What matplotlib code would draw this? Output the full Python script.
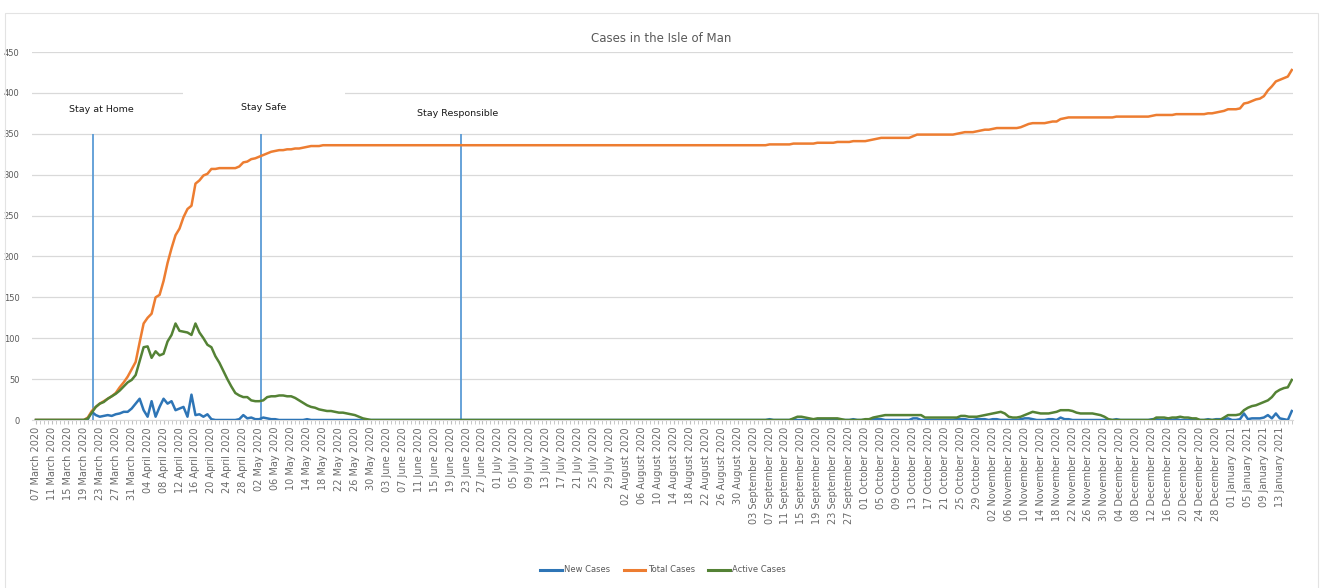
import matplotlib
matplotlib.use("Agg")
import matplotlib.pyplot as plt
from matplotlib.patches import Rectangle
import pandas as pd

# ---------------- data (daily, 07 March 2020 -> 16 January 2021) ----------------
start_date = "2020-03-07"

total_cases = [
    # March 7-31
    0, 0, 0, 0, 0, 0, 0, 0, 0, 0, 0, 0, 0,
    3, 11, 16, 20, 23, 26, 29, 33, 40, 46, 53, 62,
    # April
    71, 95, 118, 125, 130, 150, 153, 170, 192, 210, 226, 234, 248, 258, 262, 289, 293, 299, 301, 307,
    307, 308, 308, 308, 308, 308, 310, 315, 316, 319,
    # May
    320, 322, 324, 326, 328, 329, 330, 330, 331, 331, 332, 332, 333, 334, 335, 335, 335, 336, 336, 336,
    336, 336, 336, 336, 336, 336, 336, 336, 336, 336, 336,
    # June
    336, 336, 336, 336, 336, 336, 336, 336, 336, 336, 336, 336, 336, 336, 336, 336, 336, 336, 336, 336,
    336, 336, 336, 336, 336, 336, 336, 336, 336, 336,
    # July
    336, 336, 336, 336, 336, 336, 336, 336, 336, 336, 336, 336, 336, 336, 336, 336, 336, 336, 336, 336,
    336, 336, 336, 336, 336, 336, 336, 336, 336, 336, 336,
    # August
    336, 336, 336, 336, 336, 336, 336, 336, 336, 336, 336, 336, 336, 336, 336, 336, 336, 336, 336, 336,
    336, 336, 336, 336, 336, 336, 336, 336, 336, 336, 336,
    # September
    336, 336, 336, 336, 336, 336, 337, 337, 337, 337, 337, 337, 338, 338, 338, 338, 338, 338, 339, 339,
    339, 339, 339, 340, 340, 340, 340, 341, 341, 341,
    # October
    341, 342, 343, 344, 345, 345, 345, 345, 345, 345, 345, 345, 347, 349, 349, 349, 349, 349, 349, 349,
    349, 349, 349, 350, 351, 352, 352, 352, 353, 354, 355,
    # November
    355, 356, 357, 357, 357, 357, 357, 357, 358, 360, 362, 363, 363, 363, 363, 364, 365, 365, 368, 369,
    370, 370, 370, 370, 370, 370, 370, 370, 370, 370,
    # December
    370, 370, 371, 371, 371, 371, 371, 371, 371, 371, 371, 372, 373, 373, 373, 373, 373, 374, 374, 374,
    374, 374, 374, 374, 374, 375, 375, 376, 377, 378, 380,
    # January 1-16
    380, 380, 381, 387, 388, 390, 392, 393, 396, 403, 408, 414, 416, 418, 420, 428,
]

new_cases = [
    # March 7-31
    0, 0, 0, 0, 0, 0, 0, 0, 0, 0, 0, 0, 0,
    1, 10, 6, 4, 5, 6, 5, 7, 8, 10, 10, 14,
    # April
    20, 26, 12, 4, 23, 4, 16, 26, 20, 23, 12, 14, 16, 4, 31, 6, 7, 4, 7, 1,
    0, 0, 0, 0, 0, 0, 1, 6, 2, 3,
    # May
    1, 1, 3, 2, 1, 1, 0, 0, 0, 0, 0, 0, 0, 1, 0, 0, 0, 0, 0, 0,
    0, 0, 0, 0, 0, 0, 0, 0, 0, 0, 0,
    # June
    0, 0, 0, 0, 0, 0, 0, 0, 0, 0, 0, 0, 0, 0, 0, 0, 0, 0, 0, 0,
    0, 0, 0, 0, 0, 0, 0, 0, 0, 0,
    # July
    0, 0, 0, 0, 0, 0, 0, 0, 0, 0, 0, 0, 0, 0, 0, 0, 0, 0, 0, 0,
    0, 0, 0, 0, 0, 0, 0, 0, 0, 0, 0,
    # August
    0, 0, 0, 0, 0, 0, 0, 0, 0, 0, 0, 0, 0, 0, 0, 0, 0, 0, 0, 0,
    0, 0, 0, 0, 0, 0, 0, 0, 0, 0, 0,
    # September
    0, 0, 0, 0, 0, 0, 1, 0, 0, 0, 0, 0, 1, 0, 0, 0, 0, 0, 1, 0,
    0, 0, 0, 1, 0, 0, 0, 1, 0, 0,
    # October
    0, 1, 1, 1, 1, 0, 0, 0, 0, 0, 0, 0, 2, 2, 0, 0, 0, 0, 0, 0,
    0, 0, 0, 1, 1, 1, 0, 0, 1, 1, 1,
    # November
    0, 1, 1, 0, 0, 0, 0, 0, 1, 2, 2, 1, 0, 0, 0, 1, 1, 0, 3, 1,
    1, 0, 0, 0, 0, 0, 0, 0, 0, 0,
    # December
    0, 0, 1, 0, 0, 0, 0, 0, 0, 0, 0, 1, 1, 0, 0, 0, 0, 1, 0, 0,
    0, 0, 0, 0, 0, 1, 0, 1, 1, 1, 2,
    # January 1-16
    0, 0, 1, 8, 1, 2, 2, 2, 3, 6, 2, 8, 2, 1, 0, 11,
]

active_cases = [
    # March 7-31
    0, 0, 0, 0, 0, 0, 0, 0, 0, 0, 0, 0, 0,
    2, 9, 16, 20, 22, 26, 29, 32, 36, 41, 46, 49,
    # April
    55, 72, 89, 90, 76, 84, 79, 81, 96, 104, 118, 109, 108, 107, 104, 118, 107, 100, 92, 89,
    78, 70, 60, 50, 41, 33, 30, 28, 28, 24,
    # May
    23, 23, 24, 28, 29, 29, 30, 30, 29, 29, 27, 24, 21, 18, 16, 15, 13, 12, 11, 11,
    10, 9, 9, 8, 7, 6, 4, 2, 1, 0, 0,
    # June
    0, 0, 0, 0, 0, 0, 0, 0, 0, 0, 0, 0, 0, 0, 0, 0, 0, 0, 0, 0,
    0, 0, 0, 0, 0, 0, 0, 0, 0, 0,
    # July
    0, 0, 0, 0, 0, 0, 0, 0, 0, 0, 0, 0, 0, 0, 0, 0, 0, 0, 0, 0,
    0, 0, 0, 0, 0, 0, 0, 0, 0, 0, 0,
    # August
    0, 0, 0, 0, 0, 0, 0, 0, 0, 0, 0, 0, 0, 0, 0, 0, 0, 0, 0, 0,
    0, 0, 0, 0, 0, 0, 0, 0, 0, 0, 0,
    # September
    0, 0, 0, 0, 0, 0, 0, 0, 0, 0, 0, 0, 2, 4, 4, 3, 2, 1, 2, 2,
    2, 2, 2, 2, 1, 0, 0, 0, 0, 0,
    # October
    1, 1, 3, 4, 5, 6, 6, 6, 6, 6, 6, 6, 6, 6, 6, 3, 3, 3, 3, 3,
    3, 3, 3, 3, 5, 5, 4, 4, 4, 5, 6,
    # November
    7, 8, 9, 10, 8, 4, 3, 3, 4, 6, 8, 10, 9, 8, 8, 8, 9, 10, 12, 12,
    12, 11, 9, 8, 8, 8, 8, 7, 6, 4,
    # December
    1, 0, 0, 0, 0, 0, 0, 0, 0, 0, 0, 0, 3, 3, 3, 2, 3, 3, 4, 3,
    3, 2, 2, 0, 0, 0, 0, 0, 0, 3, 6,
    # January 1-16
    6, 6, 7, 12, 15, 17, 18, 20, 22, 24, 28, 34, 37, 39, 40, 49,
]

event_labels = ["Stay at Home", "Stay Safe", "Stay Responsible"]
event_positions = [14.2, 56.5, 106.6]   # day index of announcement lines
event_line_top = 350

series_names = ["New Cases", "Total Cases", "Active Cases"]
title = "Cases in the Isle of Man"

dates = pd.date_range(start_date, periods=len(total_cases), freq="D")
tick_idx = list(range(0, len(dates), 4))
tick_labels = [dates[i].strftime("%d %B %Y") for i in tick_idx]

# ---------------- figure ----------------
W, H = 1323, 588
fig = plt.figure(figsize=(W / 100, H / 100), dpi=100)
plt.rcParams["font.family"] = ["DejaVu Sans"]

def fx(px):
    return px / W

def fy(py):
    return 1 - py / H

ax = fig.add_axes([fx(32), fy(420), fx(1293) - fx(32), fy(52) - fy(420)])

blue = "#2E75B6"
orange = "#ED7D31"
green = "#548235"
event_color = "#5B9BD5"
grey_text = "#595959"
grid_col = "#D9D9D9"

x = list(range(len(dates)))
ax.plot(x, new_cases, color=blue, lw=1.8, label=series_names[0], zorder=3, solid_joinstyle="round")
ax.plot(x, total_cases, color=orange, lw=1.8, label=series_names[1], zorder=3, solid_joinstyle="round")
ax.plot(x, active_cases, color=green, lw=1.8, label=series_names[2], zorder=4, solid_joinstyle="round")

ax.vlines(event_positions, 0, event_line_top, colors=event_color, lw=1.3, zorder=2)

ax.set_xlim(-1, len(dates) - 0.7)
ax.set_ylim(0, 450)
ax.set_yticks(range(0, 451, 50))
ax.yaxis.grid(True, color=grid_col, lw=0.9)
ax.set_axisbelow(True)

ax.set_xticks(tick_idx)
ax.set_xticklabels(tick_labels, rotation=90, fontsize=7, color="#6A6A6A")
ax.set_xticks(x, minor=True)
ax.tick_params(axis="x", which="both", length=3, color="#BFBFBF", pad=2)
ax.tick_params(axis="y", length=0, labelsize=6, labelcolor=grey_text, pad=9)

for s in ["top", "right", "left"]:
    ax.spines[s].set_visible(False)
ax.spines["bottom"].set_color(grid_col)

# white text boxes hiding part of the 400 gridline (as in the original)
fig.patches.append(Rectangle((fx(183), fy(98)), fx(345) - fx(183), fy(88) - fy(98),
                             transform=fig.transFigure, facecolor="white", edgecolor="none", zorder=5))

# chart border
fig.patches.append(Rectangle((fx(5), fy(600)), fx(1318) - fx(5), fy(13) - fy(600),
                             transform=fig.transFigure, facecolor="none", edgecolor="#E3E3E3", lw=0.8, zorder=6))

fig.text(0.5, fy(38), title, ha="center", va="center", fontsize=8.5, color=grey_text)

label_pos = [(101, 110), (264, 107), (458, 113)]
for lab, (px, py) in zip(event_labels, label_pos):
    fig.text(fx(px), fy(py), lab, ha="center", va="center", fontsize=6.8, color="#1A1A1A")

leg = fig.legend(loc="center", bbox_to_anchor=(fx(663), fy(570)), ncol=3, frameon=False,
                 fontsize=6, handlelength=2.6, columnspacing=1.6, handletextpad=0.3)
for t in leg.get_texts():
    t.set_color(grey_text)
for h in leg.legend_handles:
    h.set_linewidth(2.2)

fig.savefig("out.png", dpi=100)
